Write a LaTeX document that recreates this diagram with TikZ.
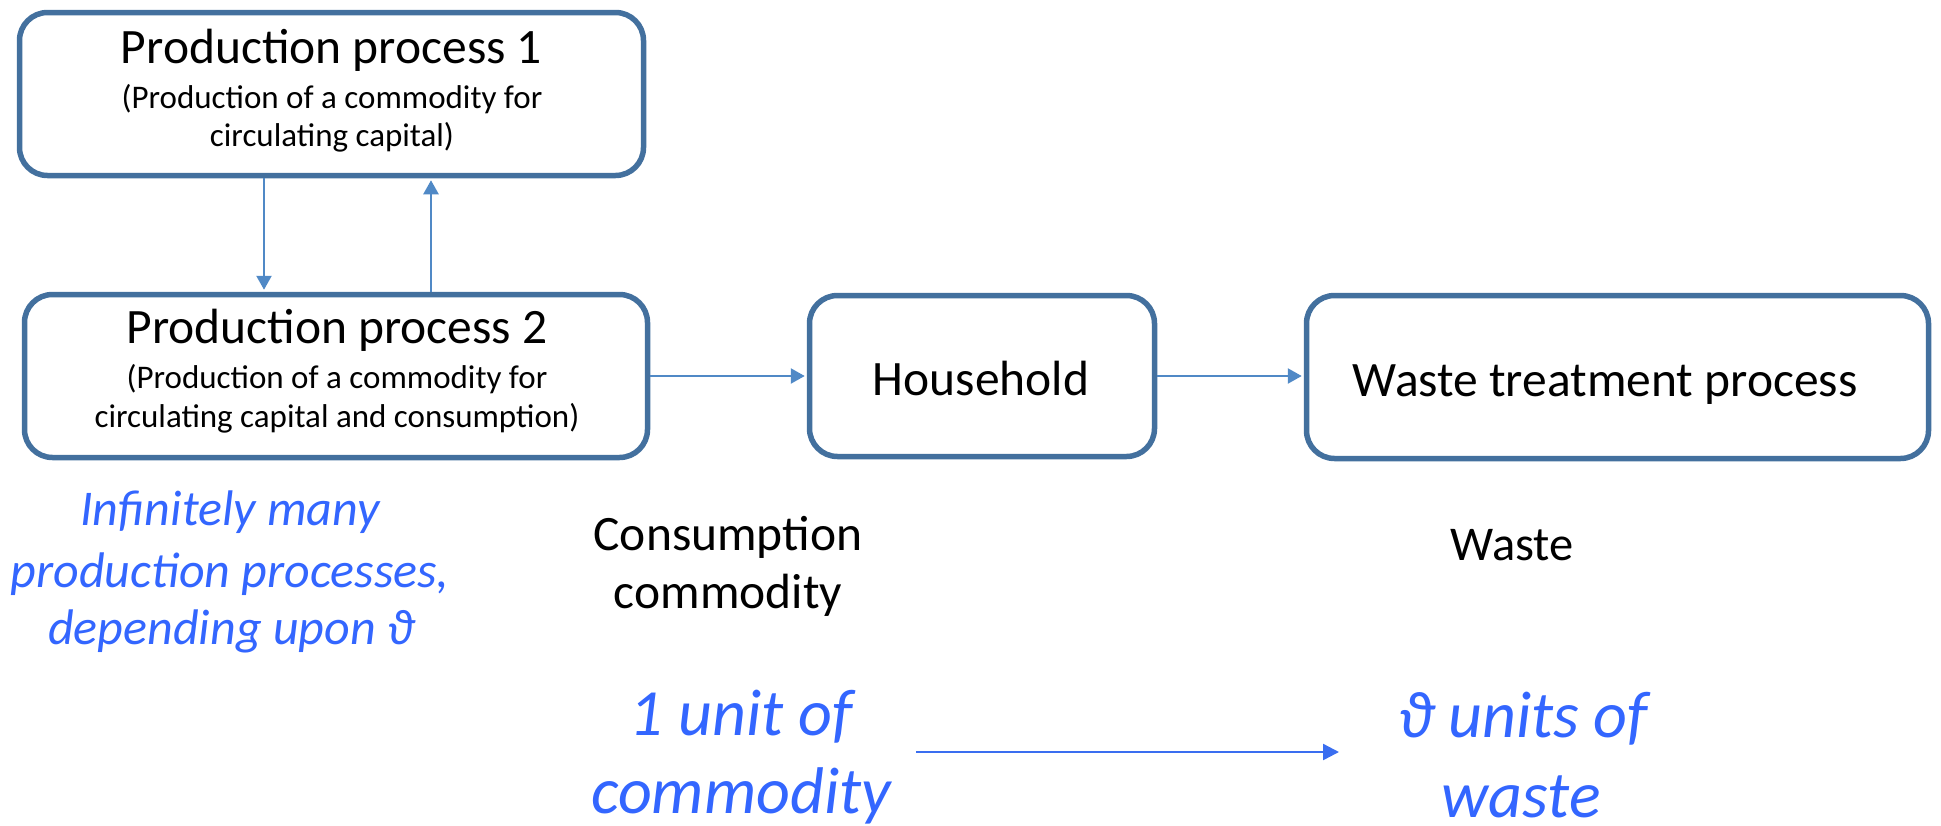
\documentclass[tikz,border=0pt]{standalone}
\usepackage{fontspec}
\setmainfont{Carlito}
\usetikzlibrary{arrows.meta}
\definecolor{boxborder}{HTML}{43709E}
\definecolor{arrowblue}{HTML}{5089C6}
\definecolor{textblue}{HTML}{3366FF}
\definecolor{bigarrow}{HTML}{3A6EF0}
\tikzset{
  procbox/.style={draw=boxborder, line width=5.5pt, rounded corners=28pt, fill=white, inner sep=0pt},
  conn/.style={draw=arrowblue, line width=2.4pt, -{Triangle[length=14pt,width=15pt]}, shorten >=2pt},
  bigconn/.style={draw=bigarrow, line width=2.4pt, -{Triangle[length=16pt,width=16pt]}},
  title/.style={anchor=base, inner sep=0pt, font=\fontsize{49.5}{58}\selectfont},
  sub/.style={anchor=base, inner sep=0pt, font=\fontsize{33}{38}\selectfont},
  label/.style={anchor=base, inner sep=0pt, font=\fontsize{49.5}{58}\selectfont},
  bluelabel/.style={anchor=base, inner sep=0pt, text=textblue, font=\fontsize{50}{58}\itshape\selectfont},
  bigblue/.style={anchor=base, inner sep=0pt, text=textblue, font=\fontsize{66}{78}\itshape\selectfont},
}
\begin{document}
\begin{tikzpicture}[x=1pt,y=-1pt]
\useasboundingbox (0,0) rectangle (1941,825);

% boxes
\node[procbox, minimum width=624pt, minimum height=163pt] (p1) at (331.5,94) {};
\node[procbox, minimum width=623pt, minimum height=163pt] (p2) at (336,376) {};
\node[procbox, minimum width=345pt, minimum height=161pt] (hh) at (982,376) {};
\node[procbox, minimum width=622pt, minimum height=163pt] (wt) at (1617.5,377) {};

% box texts
\node[title] (p1t) at (331.5,63) {Production process 1};
\node[sub] (p1s1) at (332,108) {(Production of a commodity for};
\node[sub] (p1s2) at (332,146) {circulating capital)};

\node[title] (p2t) at (337,343) {Production process 2};
\node[sub] (p2s1) at (337,388) {(Production of a commodity for};
\node[sub] (p2s2) at (337,427) {circulating capital and consumption)};

\node[title] (hht) at (981,395) {Household};
\node[title] (wtt) at (1605,396) {Waste treatment process};

% connectors between boxes
\draw[conn] ([xshift=-67.5pt]p1.south) -- ([xshift=-72pt]p2.north);
\draw[conn] ([xshift=95pt]p2.north) -- ([xshift=99.5pt]p1.south);
\draw[conn] (p2.east) -- (hh.west);
\draw[conn] (hh.east) -- (wt.west |- hh.east);

% lower labels
\node[bluelabel] (inf1) at (230,525) {Infinitely many};
\node[bluelabel] (inf2) at (230,587) {production processes,};
\node[bluelabel] (inf3) at (231,644) {depending upon ϑ};

\node[label] (cons1) at (728,550) {Consumption};
\node[label] (cons2) at (728,608) {commodity};

\node[label, font=\fontsize{48.5}{56}\selectfont] (waste) at (1512,560) {Waste};

\node[bigblue] (u1) at (741,735) {1 unit of};
\node[bigblue] (u2) at (741,813) {commodity};

\node[bigblue] (w1) at (1523,737) {ϑ units of};
\node[bigblue] (w2) at (1521,817) {waste};

\coordinate (a1) at (916,752);
\coordinate (a2) at (1339,752);
\draw[bigconn] (a1) -- (a2);
\end{tikzpicture}
\end{document}
